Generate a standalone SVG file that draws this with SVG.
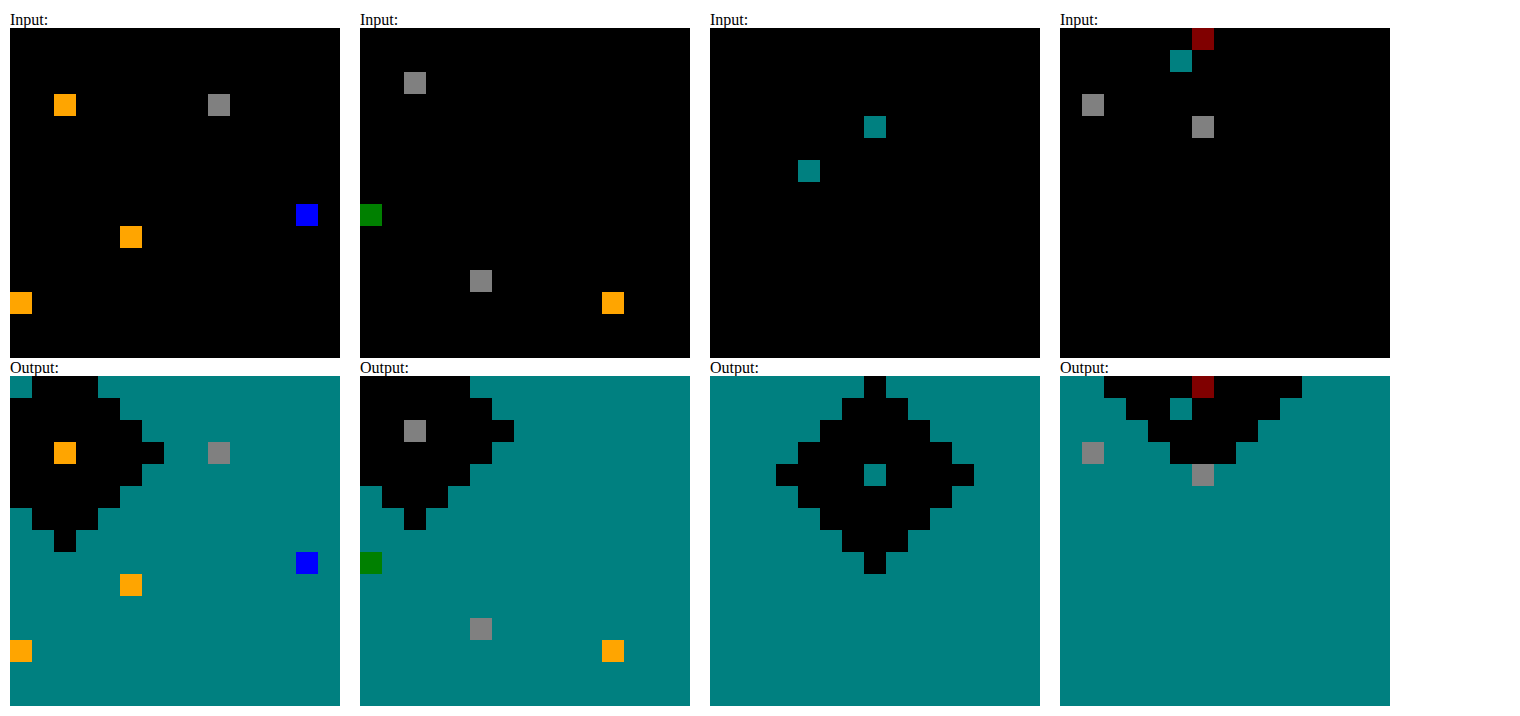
<svg xmlns="http://www.w3.org/2000/svg" width="1520" height="716" viewBox="0 0 1520 716">
<style>
text{font-family:"Liberation Serif","Times New Roman",serif;font-size:16px;fill:#000}
.bk{fill:#000}.tl{fill:#008080}.or{fill:#FFA500}.gy{fill:#808080}.bl{fill:#0000FF}.gr{fill:#008000}.dr{fill:#800000}
</style>
<rect width="1520" height="716" fill="#fff"/>
<g id="pair1">
<g id="input1">
<text x="10" y="25">Input:</text>
<rect class="bk" x="10" y="28" width="330" height="330"/>
<rect class="or" x="54" y="94" width="22" height="22"/>
<rect class="gy" x="208" y="94" width="22" height="22"/>
<rect class="bl" x="296" y="204" width="22" height="22"/>
<rect class="or" x="120" y="226" width="22" height="22"/>
<rect class="or" x="10" y="292" width="22" height="22"/>
</g>
<g id="output1">
<text x="10" y="373">Output:</text>
<rect class="tl" x="10" y="376" width="330" height="330"/>
<rect class="bk" x="32" y="376" width="66" height="22"/>
<rect class="bk" x="10" y="398" width="110" height="22"/>
<rect class="bk" x="10" y="420" width="132" height="22"/>
<rect class="bk" x="10" y="442" width="154" height="22"/>
<rect class="bk" x="10" y="464" width="132" height="22"/>
<rect class="bk" x="10" y="486" width="110" height="22"/>
<rect class="bk" x="32" y="508" width="66" height="22"/>
<rect class="bk" x="54" y="530" width="22" height="22"/>
<rect class="or" x="54" y="442" width="22" height="22"/>
<rect class="gy" x="208" y="442" width="22" height="22"/>
<rect class="bl" x="296" y="552" width="22" height="22"/>
<rect class="or" x="120" y="574" width="22" height="22"/>
<rect class="or" x="10" y="640" width="22" height="22"/>
</g>
</g>
<g id="pair2">
<g id="input2">
<text x="360" y="25">Input:</text>
<rect class="bk" x="360" y="28" width="330" height="330"/>
<rect class="gy" x="404" y="72" width="22" height="22"/>
<rect class="gr" x="360" y="204" width="22" height="22"/>
<rect class="gy" x="470" y="270" width="22" height="22"/>
<rect class="or" x="602" y="292" width="22" height="22"/>
</g>
<g id="output2">
<text x="360" y="373">Output:</text>
<rect class="tl" x="360" y="376" width="330" height="330"/>
<rect class="bk" x="360" y="376" width="110" height="22"/>
<rect class="bk" x="360" y="398" width="132" height="22"/>
<rect class="bk" x="360" y="420" width="154" height="22"/>
<rect class="bk" x="360" y="442" width="132" height="22"/>
<rect class="bk" x="360" y="464" width="110" height="22"/>
<rect class="bk" x="382" y="486" width="66" height="22"/>
<rect class="bk" x="404" y="508" width="22" height="22"/>
<rect class="gy" x="404" y="420" width="22" height="22"/>
<rect class="gr" x="360" y="552" width="22" height="22"/>
<rect class="gy" x="470" y="618" width="22" height="22"/>
<rect class="or" x="602" y="640" width="22" height="22"/>
</g>
</g>
<g id="pair3">
<g id="input3">
<text x="710" y="25">Input:</text>
<rect class="bk" x="710" y="28" width="330" height="330"/>
<rect class="tl" x="864" y="116" width="22" height="22"/>
<rect class="tl" x="798" y="160" width="22" height="22"/>
</g>
<g id="output3">
<text x="710" y="373">Output:</text>
<rect class="tl" x="710" y="376" width="330" height="330"/>
<rect class="bk" x="864" y="376" width="22" height="22"/>
<rect class="bk" x="842" y="398" width="66" height="22"/>
<rect class="bk" x="820" y="420" width="110" height="22"/>
<rect class="bk" x="798" y="442" width="154" height="22"/>
<rect class="bk" x="776" y="464" width="198" height="22"/>
<rect class="bk" x="798" y="486" width="154" height="22"/>
<rect class="bk" x="820" y="508" width="110" height="22"/>
<rect class="bk" x="842" y="530" width="66" height="22"/>
<rect class="bk" x="864" y="552" width="22" height="22"/>
<rect class="tl" x="864" y="464" width="22" height="22"/>
</g>
</g>
<g id="pair4">
<g id="input4">
<text x="1060" y="25">Input:</text>
<rect class="bk" x="1060" y="28" width="330" height="330"/>
<rect class="dr" x="1192" y="28" width="22" height="22"/>
<rect class="tl" x="1170" y="50" width="22" height="22"/>
<rect class="gy" x="1082" y="94" width="22" height="22"/>
<rect class="gy" x="1192" y="116" width="22" height="22"/>
</g>
<g id="output4">
<text x="1060" y="373">Output:</text>
<rect class="tl" x="1060" y="376" width="330" height="330"/>
<rect class="bk" x="1104" y="376" width="198" height="22"/>
<rect class="bk" x="1126" y="398" width="154" height="22"/>
<rect class="bk" x="1148" y="420" width="110" height="22"/>
<rect class="bk" x="1170" y="442" width="66" height="22"/>
<rect class="dr" x="1192" y="376" width="22" height="22"/>
<rect class="tl" x="1170" y="398" width="22" height="22"/>
<rect class="gy" x="1082" y="442" width="22" height="22"/>
<rect class="gy" x="1192" y="464" width="22" height="22"/>
</g>
</g>
<g id="connectors"/>
</svg>
